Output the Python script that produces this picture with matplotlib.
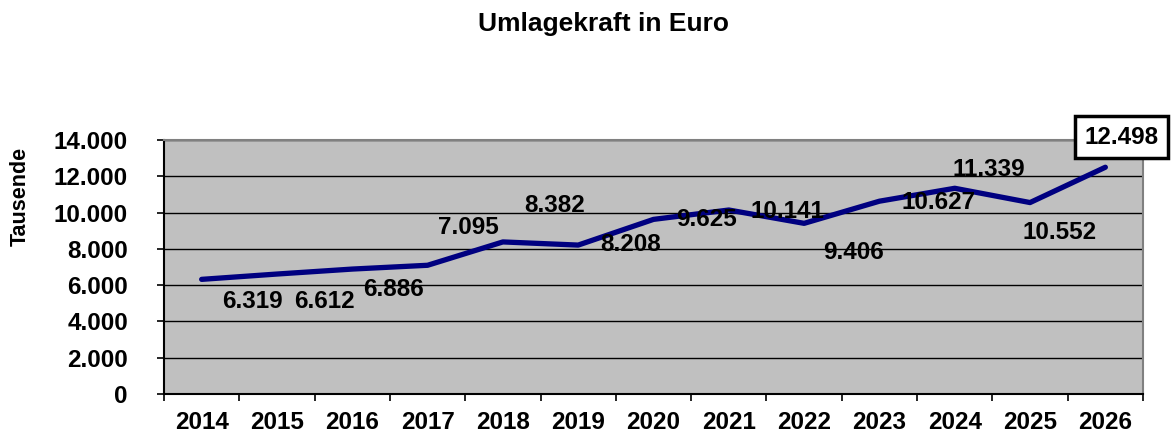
import matplotlib
matplotlib.use("Agg")
import matplotlib.pyplot as plt
from matplotlib.ticker import FuncFormatter, FixedLocator

plt.rcParams["font.family"] = ["Liberation Sans", "DejaVu Sans"]
plt.rcParams["font.weight"] = "bold"

years = ["2014", "2015", "2016", "2017", "2018", "2019", "2020",
         "2021", "2022", "2023", "2024", "2025", "2026"]
values = [6319, 6612, 6886, 7095, 8382, 8208, 9625,
          10141, 9406, 10627, 11339, 10552, 12498]
yticks = [0, 2000, 4000, 6000, 8000, 10000, 12000, 14000]

# where the original puts each data label, in pixels from its point (dx, dy up)
label_offsets = [(51, -22), (47, -27), (41, -20), (41, 38), (52, 36), (52, 1),
                 (53, 0), (59, -1), (49, -29), (59, -1), (34, 19), (30, -30),
                 (16, 30)]


def de_fmt(v, _pos=None):
    return f"{v:,.0f}".replace(",", ".")


fig = plt.figure(figsize=(11.71, 4.34), dpi=100)
ax = fig.add_axes([164 / 1171, 40 / 434, 979 / 1171, 254 / 434])
ax.set_facecolor("#c0c0c0")

x = list(range(len(years)))
ax.plot(x, values, color="#000080", lw=3.8, solid_capstyle="round",
        solid_joinstyle="round", zorder=3)

ax.set_xlim(-0.5, len(years) - 0.5)
ax.set_ylim(0, 14000)
ax.set_yticks(yticks)
ax.yaxis.set_major_formatter(FuncFormatter(de_fmt))
ax.grid(axis="y", color="black", lw=1.0, zorder=1)
ax.set_axisbelow(True)

ax.set_xticks(x)
ax.set_xticklabels(years)
ax.xaxis.set_minor_locator(FixedLocator([i - 0.5 for i in range(len(years) + 1)]))
ax.tick_params(axis="x", which="major", length=0, pad=12, labelsize=17.5)
ax.tick_params(axis="x", which="minor", length=5, width=1.2, direction="out")
ax.tick_params(axis="y", length=5, width=1.2, pad=21, labelsize=17.5)
for lab in ax.get_xticklabels() + ax.get_yticklabels():
    lab.set_fontweight("bold")

for side in ("top", "right"):
    ax.spines[side].set_color("#808080")
    ax.spines[side].set_linewidth(1.5)
for side in ("left", "bottom"):
    ax.spines[side].set_color("black")
    ax.spines[side].set_linewidth(1.5)

for i, (v, (dx, dy)) in enumerate(zip(values, label_offsets)):
    kw = {}
    if i == len(values) - 1:
        kw["bbox"] = dict(boxstyle="square,pad=0.4", fc="white", ec="black", lw=2.5)
    ax.annotate(de_fmt(v), (i, v), xytext=(dx, dy), textcoords="offset pixels",
                ha="center", va="center", fontsize=17.5, fontweight="bold",
                annotation_clip=False, zorder=5, **kw)

fig.text(603 / 1171, 1 - 24 / 434, "Umlagekraft in Euro", ha="center", va="center",
         fontsize=19, fontweight="bold")
fig.text(20 / 1171, 1 - 196 / 434, "Tausende", ha="center", va="center",
         rotation=90, fontsize=15.5, fontweight="bold")

fig.savefig("out.png", dpi=100)
